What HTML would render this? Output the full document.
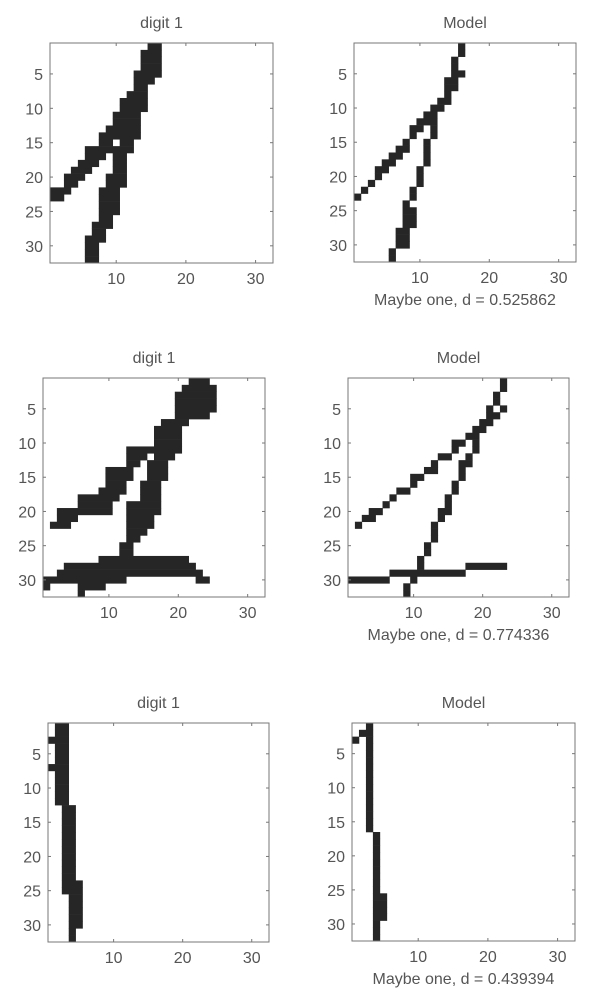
<!DOCTYPE html>
<html><head><meta charset="utf-8"><style>
html,body{margin:0;padding:0;background:#fff;}
svg{display:block;}
text{font-family:"Liberation Sans",sans-serif;fill:#555;font-size:16px;}
</style></head><body>
<svg id="s" width="601" height="1000" xmlns="http://www.w3.org/2000/svg"></svg>
<script>
const S=document.getElementById('s');
let out='';
function panel(x0,y0,x1,y1,title,rows,sub){
  const cw=(x1-x0)/32,ch=(y1-y0)/32;
  for(const r in rows){
    const spans=rows[r];
    for(let i=0;i<spans.length;i+=2){
      const a=spans[i],b=spans[i+1];
      out+=`<rect x="${(x0+(a-1)*cw).toFixed(2)}" y="${(y0+(r-1)*ch).toFixed(2)}" width="${((b-a+1)*cw+0.3).toFixed(2)}" height="${(ch+0.3).toFixed(2)}" fill="#262626"/>`;
    }
  }
  out+=`<rect x="${x0}" y="${y0}" width="${x1-x0}" height="${y1-y0}" fill="none" stroke="#777" stroke-width="1"/>`;
  for(const t of [10,20,30]){const x=x0+(t-0.5)*cw;
    out+=`<line x1="${x}" y1="${y1}" x2="${x}" y2="${y1-3}" stroke="#777"/><line x1="${x}" y1="${y0}" x2="${x}" y2="${y0+3}" stroke="#777"/>`;
    out+=`<text x="${x}" y="${y1+21}" text-anchor="middle">${t}</text>`;}
  for(const t of [5,10,15,20,25,30]){const y=y0+(t-0.5)*ch;
    out+=`<line x1="${x0}" y1="${y}" x2="${x0+3}" y2="${y}" stroke="#777"/><line x1="${x1}" y1="${y}" x2="${x1-3}" y2="${y}" stroke="#777"/>`;
    out+=`<text x="${x0-7}" y="${y+6}" text-anchor="end">${t}</text>`;}
  out+=`<text x="${(x0+x1)/2}" y="${y0-15}" text-anchor="middle">${title}</text>`;
  if(sub) out+=`<text x="${(x0+x1)/2}" y="${y1+43}" text-anchor="middle">${sub}</text>`;
}
const A={1:[15,16],2:[14,16],3:[14,16],4:[14,16],5:[13,16],6:[13,15],7:[13,14],8:[12,14],9:[11,14],10:[11,14],11:[10,13],12:[10,13],13:[9,13],14:[8,13],15:[8,9,11,12],16:[6,9,10,12],17:[6,8,10,11],18:[5,7,10,11],19:[4,6,10,11],20:[3,5,9,11],21:[3,4,9,11],22:[1,3,8,10],23:[1,2,8,10],24:[8,10],25:[8,10],26:[8,9],27:[7,9],28:[7,8],29:[6,8],30:[6,7],31:[6,7],32:[6,7]};
const B={1:[16,16],2:[16,16],3:[15,15],4:[15,15],5:[15,16],6:[14,15],7:[14,15],8:[14,14],9:[13,14],10:[12,13],11:[11,11,12,12],12:[10,11,12,12],13:[9,10,12,12],14:[9,9,12,12],15:[8,8,11,11],16:[7,8,11,11],17:[6,7,11,11],18:[5,6,11,11],19:[4,5,10,10],20:[4,4,10,10],21:[3,3,10,10],22:[2,2,9,9],23:[1,1,9,9],24:[8,8],25:[8,9],26:[8,9],27:[8,9],28:[7,8],29:[7,8],30:[7,8],31:[6,6],32:[6,6]};
const C={1:[22,24],2:[21,25],3:[20,25],4:[20,25],5:[20,25],6:[20,24],7:[18,21],8:[17,20],9:[17,20],10:[17,20],11:[13,20],12:[13,15,17,19],13:[13,14,16,18],14:[10,13,16,18],15:[10,13,16,18],16:[10,12,15,17],17:[9,12,15,17],18:[6,11,15,17],19:[6,10,13,17],20:[3,10,13,17],21:[3,5,13,16],22:[2,4,13,16],23:[13,15],24:[13,14],25:[12,13],26:[12,13],27:[9,21],28:[4,22],29:[3,23],30:[1,12,23,24],31:[1,1,6,9],32:[6,6]};
const D={1:[23,23],2:[23,23],3:[22,22],4:[22,22],5:[21,21,23,23],6:[21,22],7:[20,21],8:[19,20],9:[18,19],10:[16,17,19,19],11:[16,16,19,19],12:[14,15,18,18],13:[13,13,17,18],14:[12,13,17,17],15:[10,11,17,17],16:[10,10,16,16],17:[8,9,16,16],18:[7,7,15,15],19:[6,6,15,15],20:[4,5,14,15],21:[3,4,14,14],22:[2,2,13,13],23:[13,13],24:[13,13],25:[12,12],26:[12,12],27:[11,11],28:[11,11,18,23],29:[7,17],30:[1,6,10,10],31:[9,9],32:[9,9]};
const E={1:[2,3],2:[2,3],3:[1,3],4:[2,3],5:[2,3],6:[2,3],7:[1,3],8:[2,3],9:[2,3],10:[2,3],11:[2,3],12:[2,3],24:[3,5],25:[3,5],26:[4,5],27:[4,5],28:[4,5],29:[4,5],30:[4,5],31:[4,4],32:[4,4]};
for(let r=13;r<=23;r++)E[r]=[3,4];
const F={1:[3,3],2:[2,3],3:[1,1,3,3],26:[4,5],27:[4,5],28:[4,5],29:[4,5],30:[4,4],31:[4,4],32:[4,4]};
for(let r=4;r<=16;r++)F[r]=[3,3];
for(let r=17;r<=25;r++)F[r]=[4,4];
panel(50,43,273,263,'digit 1',A,null);
panel(354,43,576,262,'Model',B,'Maybe one, d = 0.525862');
panel(43,378,265,597,'digit 1',C,null);
panel(348,378,569,597,'Model',D,'Maybe one, d = 0.774336');
panel(48,723,269,942,'digit 1',E,null);
panel(352,723,575,941,'Model',F,'Maybe one, d = 0.439394');
S.innerHTML=out;
</script>
</body></html>
